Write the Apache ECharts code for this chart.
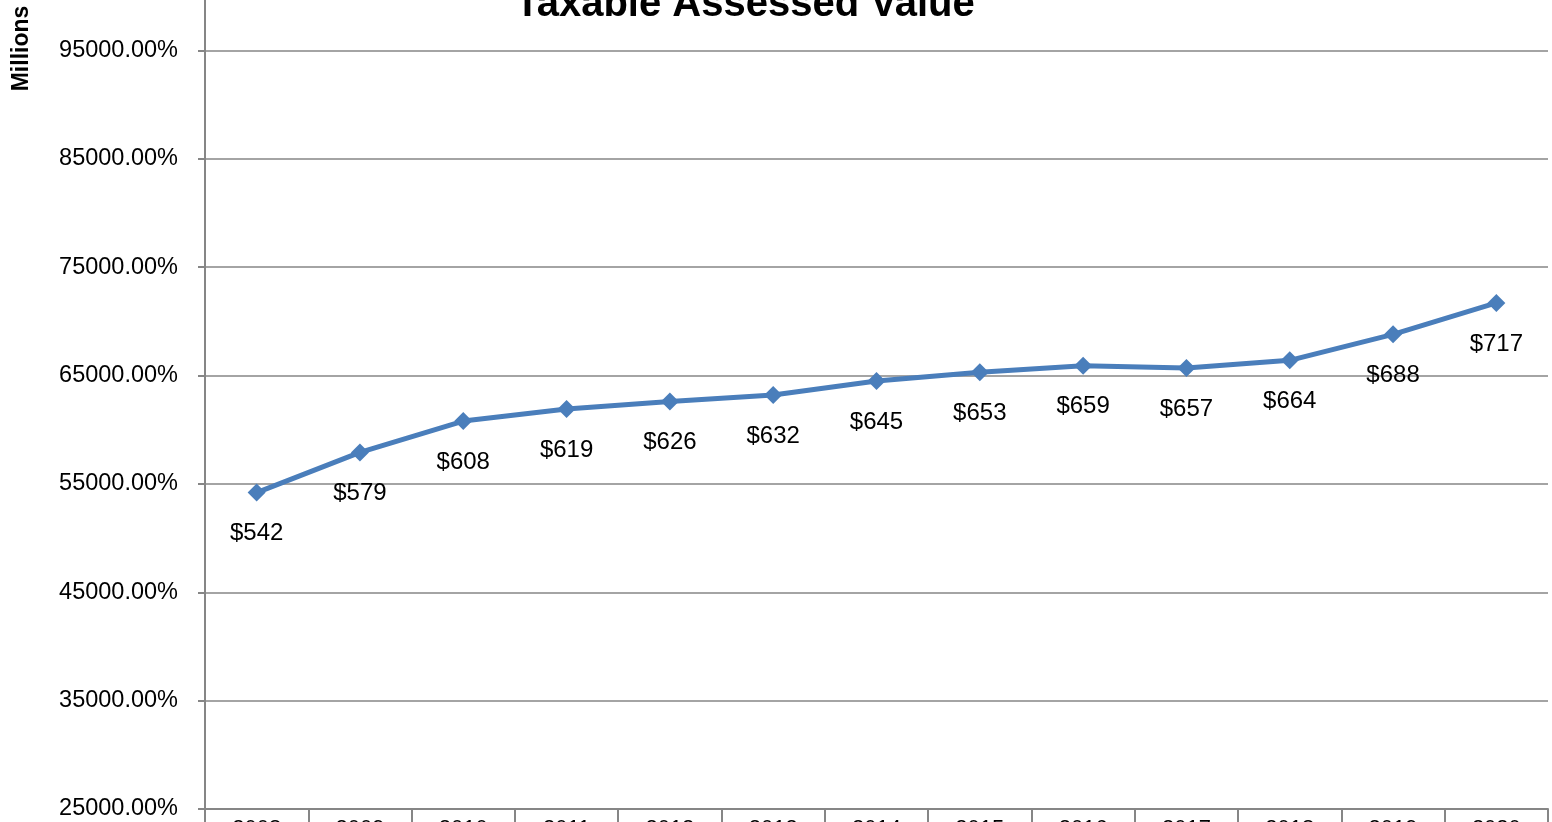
<!DOCTYPE html>
<html>
<head>
<meta charset="utf-8">
<script src="https://cdn.jsdelivr.net/npm/echarts@6/dist/echarts.min.js"></script>
<style>html,body{margin:0;padding:0;background:#fff;}#c{width:1552px;height:822px;}</style>
</head>
<body>
<div id="c"></div>
<script>
const years = ['2008','2009','2010','2011','2012','2013','2014','2015','2016','2017','2018','2019','2020'];
const values = [542, 579, 608, 619, 626, 632, 645, 653, 659, 657, 664, 688, 717];
const yMin = 250, yMax = 1050, yInterval = 100;

const chart = echarts.init(document.getElementById('c'));
const font = '"Liberation Sans", Arial, sans-serif';
chart.setOption({
  animation: false,
  grid: { left: 205, right: 4, top: -58, bottom: 13, containLabel: false, outerBoundsMode: 'none' },
  graphic: [
    { type: 'text', x: 745, y: 4.5, z: 10, style: { text: 'Taxable Assessed Value', font: 'bold 40px ' + font, fill: '#000', textAlign: 'center', textVerticalAlign: 'middle' } },
    { type: 'text', x: 22, y: 48.5, rotation: Math.PI / 2, style: { text: 'Millions', font: 'bold 23px ' + font, fill: '#000', textAlign: 'center', textVerticalAlign: 'middle' } }
  ],
  xAxis: {
    type: 'category', data: years, boundaryGap: true,
    axisLine: { lineStyle: { color: '#868686', width: 2 } },
    axisTick: { show: true, length: 14, interval: 0, lineStyle: { color: '#868686', width: 2 } },
    axisLabel: { fontSize: 22, fontFamily: font, color: '#000', margin: 9, interval: 0 }
  },
  yAxis: {
    type: 'value', min: yMin, max: yMax, interval: yInterval,
    axisLine: { show: true, lineStyle: { color: '#868686', width: 2 } },
    axisTick: { show: true, length: 7, lineStyle: { color: '#868686', width: 2 } },
    splitLine: { lineStyle: { color: '#868686', width: 1.5 } },
    axisLabel: {
      fontSize: 23.5, fontFamily: font, color: '#000', margin: 27,
      formatter: v => (v * 100).toFixed(2) + '%',
      showMaxLabel: false
    }
  },
  series: [{
    type: 'line', data: values,
    symbol: 'diamond', symbolSize: 18,
    lineStyle: { color: '#4A7EBB', width: 5 },
    itemStyle: { color: '#4A7EBB' },
    label: { show: true, position: 'bottom', distance: 20, fontSize: 24, fontFamily: font, color: '#000', formatter: p => '$' + p.value }
  }]
});
</script>
</body>
</html>
